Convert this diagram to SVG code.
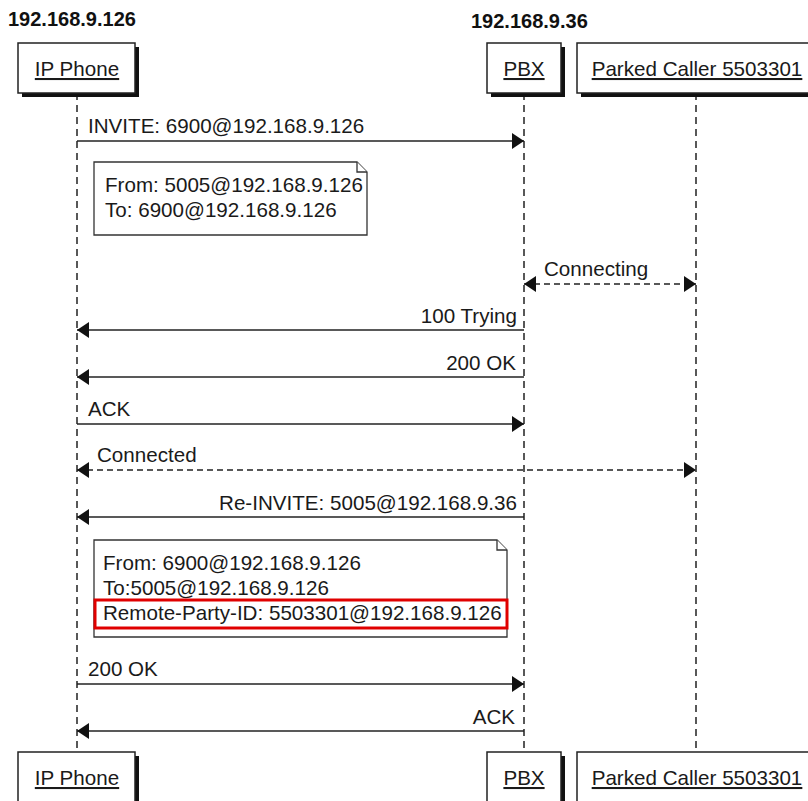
<svg xmlns="http://www.w3.org/2000/svg" width="808" height="801" viewBox="0 0 808 801">
<style>
  text { font-family: "Liberation Sans", Arial, sans-serif; font-size: 20.6px; fill: #1a1a1a; }
  .host { font-weight: bold; font-size: 20px; fill: #111; }
  .lbl { text-decoration: underline; }
  .box { fill: #fff; stroke: #222; stroke-width: 1.5; }
  .shadow { fill: #111; }
  .life { stroke: #222; stroke-width: 1.5; stroke-dasharray: 7 5; fill: none; }
  .msg { stroke: #222; stroke-width: 1.5; fill: none; }
  .dash { stroke-dasharray: 6 4; }
  .note { fill: #fff; stroke: #333; stroke-width: 1.3; }
  .hl { fill: none; stroke: #e00000; stroke-width: 3; }
</style>
<defs>
  <marker id="ah" viewBox="0 0 12 16" refX="12" refY="8" markerWidth="12" markerHeight="16" markerUnits="userSpaceOnUse" orient="auto-start-reverse">
    <path d="M0,0 L12,8 L0,16 z" fill="#111"/>
  </marker>
</defs>
<rect width="808" height="801" fill="#fff"/>

<text class="host" x="8" y="26">192.168.9.126</text>
<text class="host" x="471" y="28">192.168.9.36</text>

<g id="lifelines">
  <line class="life" x1="77" y1="93" x2="77" y2="752"/>
  <line class="life" x1="524" y1="93" x2="524" y2="752"/>
  <line class="life" x1="696" y1="93" x2="696" y2="752"/>
</g>

<g id="ipphone">
  <rect class="shadow" x="22" y="47" width="117" height="50"/>
  <rect class="box" x="18" y="43" width="117" height="50"/>
  <text class="lbl" x="77" y="76" text-anchor="middle">IP Phone</text>
  <rect class="shadow" x="22" y="756" width="117" height="60"/>
  <rect class="box" x="18" y="752" width="117" height="60"/>
  <text class="lbl" x="77" y="785" text-anchor="middle">IP Phone</text>
</g>

<g id="pbx">
  <rect class="shadow" x="491" y="47" width="74" height="50"/>
  <rect class="box" x="487" y="43" width="74" height="50"/>
  <text class="lbl" x="524" y="76" text-anchor="middle">PBX</text>
  <rect class="shadow" x="491" y="756" width="74" height="60"/>
  <rect class="box" x="487" y="752" width="74" height="60"/>
  <text class="lbl" x="524" y="785" text-anchor="middle">PBX</text>
</g>

<g id="parked">
  <rect class="shadow" x="581" y="47" width="240" height="50"/>
  <rect class="box" x="577" y="43" width="240" height="50"/>
  <text class="lbl" x="697" y="76" text-anchor="middle">Parked Caller 5503301</text>
  <rect class="shadow" x="581" y="756" width="240" height="60"/>
  <rect class="box" x="577" y="752" width="240" height="60"/>
  <text class="lbl" x="697" y="785" text-anchor="middle">Parked Caller 5503301</text>
</g>

<g id="note1">
  <path class="note" d="M94,162 H357 L367,172 V235 H94 Z"/>
  <path class="note" d="M357,162 V172 H367" fill="none"/>
  <text x="105" y="192">From: 5005@192.168.9.126</text>
  <text x="105" y="217">To: 6900@192.168.9.126</text>
</g>

<g id="note2">
  <path class="note" d="M94,540 H497 L507,550 V637 H94 Z"/>
  <path class="note" d="M497,540 V550 H507" fill="none"/>
  <text x="103" y="570">From: 6900@192.168.9.126</text>
  <text x="103" y="595">To:5005@192.168.9.126</text>
  <rect class="hl" x="95" y="600" width="412" height="28"/>
  <text x="103" y="620">Remote-Party-ID: 5503301@192.168.9.126</text>
</g>

<g id="connectors">
  <line class="msg" x1="77" y1="141" x2="524" y2="141" marker-end="url(#ah)"/>
  <text x="88" y="133">INVITE: 6900@192.168.9.126</text>

  <line class="msg dash" x1="524" y1="284" x2="696" y2="284" marker-start="url(#ah)" marker-end="url(#ah)"/>
  <text x="544" y="276">Connecting</text>

  <line class="msg" x1="524" y1="330" x2="77" y2="330" marker-end="url(#ah)"/>
  <text x="517" y="323" text-anchor="end">100 Trying</text>

  <line class="msg" x1="524" y1="377" x2="77" y2="377" marker-end="url(#ah)"/>
  <text x="516" y="370" text-anchor="end">200 OK</text>

  <line class="msg" x1="77" y1="424" x2="524" y2="424" marker-end="url(#ah)"/>
  <text x="88" y="416">ACK</text>

  <line class="msg dash" x1="77" y1="470" x2="696" y2="470" marker-start="url(#ah)" marker-end="url(#ah)"/>
  <text x="97" y="462">Connected</text>

  <line class="msg" x1="524" y1="517" x2="77" y2="517" marker-end="url(#ah)"/>
  <text x="517" y="510" text-anchor="end">Re-INVITE: 5005@192.168.9.36</text>

  <line class="msg" x1="77" y1="684" x2="524" y2="684" marker-end="url(#ah)"/>
  <text x="88" y="676">200 OK</text>

  <line class="msg" x1="524" y1="731" x2="77" y2="731" marker-end="url(#ah)"/>
  <text x="515" y="724" text-anchor="end">ACK</text>
</g>
</svg>
